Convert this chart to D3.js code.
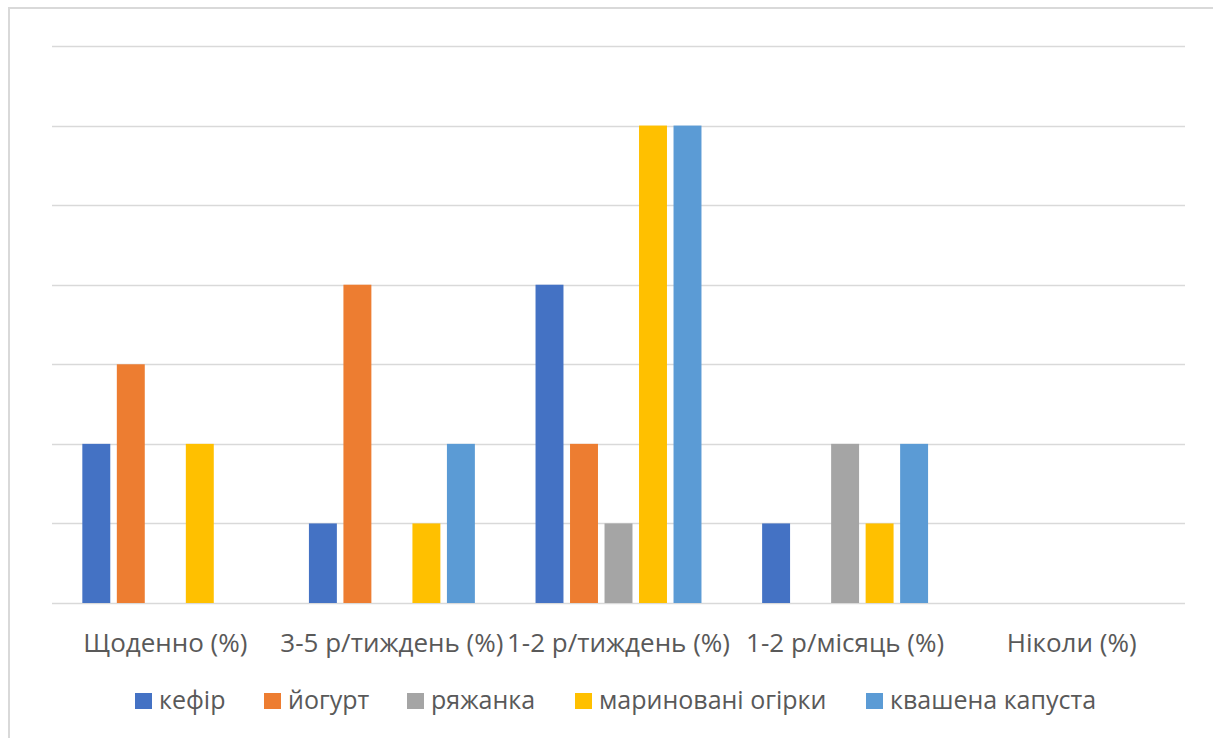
<!DOCTYPE html>
<html>
<head>
<meta charset="utf-8">
<script src="https://cdn.jsdelivr.net/npm/d3@7"></script>
<style>
  html, body { margin: 0; padding: 0; background: #fff; }
  svg { display: block; }
  text { font-family: "Open Sans", "Noto Sans", sans-serif; fill: #595959; }
</style>
</head>
<body>
<svg id="chart" width="1213" height="738"></svg>
<script>
// Frequency categories along the x axis
const categories = ["Щоденно (%)", "3-5 р/тиждень (%)", "1-2 р/тиждень (%)", "1-2 р/місяць (%)", "Ніколи (%)"];

// Product series
const seriesNames = ["кефір", "йогурт", "ряжанка", "мариновані огірки", "квашена капуста"];
const seriesColors = ["#4472C4", "#ED7D31", "#A5A5A5", "#FFC000", "#5B9BD5"];

// Values per series, one per category
const kefir      = [2, 1, 4, 1, 0];
const yogurt     = [3, 4, 2, 0, 0];
const ryazhanka  = [0, 0, 1, 2, 0];
const pickles    = [2, 1, 6, 1, 0];
const sauerkraut = [0, 2, 6, 2, 0];

// Gridline values (no tick labels shown)
const gridTicks = [0, 1, 2, 3, 4, 5, 6, 7];

const seriesValues = [kefir, yogurt, ryazhanka, pickles, sauerkraut];

const svg = d3.select("#chart");

// Chart frame
svg.append("rect")
  .attr("x", 9).attr("y", 8)
  .attr("width", 1220).attr("height", 760)
  .attr("fill", "none")
  .attr("stroke", "#d9d9d9")
  .attr("stroke-width", 2);

const plot = { left: 52, right: 1185, top: 46, bottom: 603 };

const y = d3.scaleLinear().domain([0, 7]).range([plot.bottom, plot.top]);

const x0 = d3.scaleBand().domain(categories).range([plot.left, plot.right]).padding(0);
const x1 = d3.scaleBand().domain(seriesNames).range([0, x0.bandwidth()])
  .paddingInner(0.19).paddingOuter(0.879);

// Horizontal gridlines
svg.append("g").selectAll("line")
  .data(gridTicks)
  .join("line")
  .attr("x1", plot.left).attr("x2", plot.right)
  .attr("y1", d => Math.round(y(d)) + 0.5)
  .attr("y2", d => Math.round(y(d)) + 0.5)
  .attr("stroke", "#d9d9d9")
  .attr("stroke-width", 1.5);

// Bars
const rows = [];
categories.forEach((c, ci) => {
  seriesNames.forEach((s, si) => {
    rows.push({ cat: c, series: s, value: seriesValues[si][ci], color: seriesColors[si] });
  });
});

svg.append("g").selectAll("rect")
  .data(rows.filter(d => d.value > 0))
  .join("rect")
  .attr("x", d => x0(d.cat) + x1(d.series))
  .attr("y", d => y(d.value))
  .attr("width", x1.bandwidth())
  .attr("height", d => y(0) - y(d.value))
  .attr("fill", d => d.color);

// Category labels
const xAxis = d3.axisBottom(x0).tickSize(0).tickPadding(0);
const gx = svg.append("g").attr("transform", `translate(0,${plot.bottom})`).call(xAxis);
gx.select(".domain").remove();
gx.selectAll("text")
  .attr("dy", null)
  .attr("y", 49)
  .style("font-size", "26px")
  .style("font-family", null)
  .attr("fill", "#595959");

// Legend
const legendX = [135, 264, 407, 575, 866];
const legend = svg.append("g").selectAll("g")
  .data(seriesNames)
  .join("g")
  .attr("transform", (d, i) => `translate(${legendX[i]},693)`);
legend.append("rect")
  .attr("width", 17).attr("height", 16)
  .attr("fill", (d, i) => seriesColors[i]);
legend.append("text")
  .attr("x", 24).attr("y", 16)
  .style("font-size", "25px")
  .text(d => d);
</script>
</body>
</html>
